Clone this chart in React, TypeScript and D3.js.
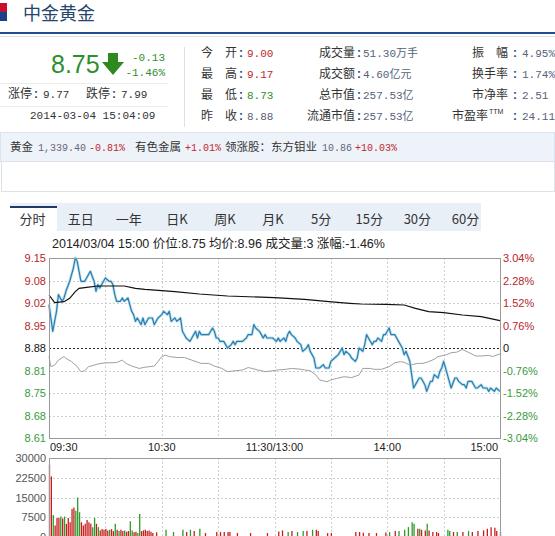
import React from 'react';
import * as d3 from 'd3';

// ---------- data ----------
const prevClose = 8.88;
const priceSeries: [number, number][] = [
  [0,9.01],[2,8.93],[4,8.99],[5,9.04],[7,9.02],[8,9.03],[9,9.05],[11,9.08],[13,9.12],[14,9.15],[15,9.14],[16,9.11],[17,9.08],[19,9.08],[20,9.09],[21,9.10],[22,9.11],[24,9.08],[25,9.05],[26,9.07],[27,9.06],[29,9.08],[30,9.09],[32,9.08],[33,9.08],[34,9.07],[35,9.04],[36,9.02],[38,9.02],[39,9.03],[40,9.02],[42,9.03],[44,8.99],[45,8.98],[46,8.96],[47,8.97],[49,8.95],[50,8.97],[51,8.95],[53,8.97],[55,8.97],[56,8.95],[58,8.97],[60,8.98],[61,8.99],[63,8.98],[64,8.99],[65,8.96],[67,8.97],[68,8.96],[70,8.97],[71,8.93],[73,8.91],[75,8.90],[76,8.91],[77,8.92],[78,8.93],[79,8.91],[80,8.93],[81,8.92],[83,8.92],[85,8.92],[87,8.94],[88,8.93],[89,8.91],[90,8.91],[91,8.90],[93,8.90],[94,8.89],[95,8.88],[97,8.89],[98,8.90],[99,8.89],[100,8.90],[102,8.90],[103,8.90],[105,8.91],[106,8.92],[108,8.92],[109,8.95],[110,8.94],[112,8.93],[113,8.92],[114,8.91],[115,8.92],[116,8.91],[118,8.91],[119,8.91],[121,8.90],[122,8.91],[123,8.90],[125,8.91],[126,8.90],[127,8.92],[128,8.93],[129,8.92],[131,8.91],[132,8.90],[134,8.89],[135,8.87],[137,8.88],[138,8.89],[139,8.87],[141,8.85],[142,8.82],[144,8.82],[146,8.83],[147,8.82],[149,8.82],[150,8.84],[152,8.85],[154,8.86],[156,8.88],[157,8.86],[158,8.87],[160,8.86],[161,8.85],[163,8.84],[164,8.85],[165,8.88],[167,8.87],[168,8.89],[169,8.92],[170,8.91],[172,8.89],[173,8.90],[174,8.90],[175,8.91],[177,8.90],[178,8.92],[179,8.92],[180,8.93],[181,8.94],[182,8.92],[184,8.92],[185,8.91],[186,8.90],[188,8.88],[189,8.86],[190,8.87],[192,8.84],[193,8.80],[194,8.76],[196,8.78],[197,8.79],[198,8.79],[200,8.77],[201,8.75],[203,8.78],[204,8.78],[205,8.80],[207,8.79],[208,8.81],[209,8.82],[210,8.84],[212,8.80],[213,8.78],[214,8.76],[216,8.79],[217,8.79],[218,8.78],[220,8.77],[221,8.77],[222,8.76],[223,8.78],[225,8.78],[226,8.77],[227,8.76],[228,8.76],[230,8.77],[231,8.76],[233,8.76],[234,8.75],[235,8.76],[237,8.75],[238,8.76],[240,8.75]
];
const avgSeries: [number, number][] = [
  [0,9.039],[3,9.016],[8,9.019],[11,9.029],[14,9.049],[16,9.059],[20,9.062],[26,9.066],[40,9.066],[46,9.059],[51,9.056],[60,9.052],[67,9.049],[80,9.042],[95,9.036],[120,9.031],[136,9.026],[149,9.019],[160,9.014],[166,9.012],[179,9.011],[189,9.009],[195,8.999],[202,8.989],[210,8.986],[220,8.979],[230,8.974],[240,8.962]
];
const indexPctSeries: [number, number][] = [
  [0,-0.29],[1,-0.63],[3,-0.58],[5,-0.41],[8,-0.29],[9,-0.35],[12,-0.46],[15,-0.63],[17,-0.80],[19,-0.77],[21,-0.63],[24,-0.58],[26,-0.54],[30,-0.50],[33,-0.50],[36,-0.49],[39,-0.41],[41,-0.52],[44,-0.61],[48,-0.69],[51,-0.65],[56,-0.61],[58,-0.46],[60,-0.29],[62,-0.24],[64,-0.29],[68,-0.32],[72,-0.32],[76,-0.41],[80,-0.50],[81,-0.52],[85,-0.52],[88,-0.61],[92,-0.69],[95,-0.80],[99,-0.77],[103,-0.74],[106,-0.66],[108,-0.69],[111,-0.74],[115,-0.80],[119,-0.77],[122,-0.74],[126,-0.72],[129,-0.69],[133,-0.71],[136,-0.74],[139,-0.77],[142,-0.91],[144,-1.08],[148,-1.14],[150,-1.08],[153,-1.03],[157,-0.97],[161,-1.0],[165,-0.91],[167,-0.69],[171,-0.69],[173,-0.72],[177,-0.72],[181,-0.63],[184,-0.50],[187,-0.46],[189,-0.48],[192,-0.58],[196,-0.52],[199,-0.52],[202,-0.46],[205,-0.38],[207,-0.29],[211,-0.24],[214,-0.16],[217,-0.14],[220,-0.05],[223,-0.14],[227,-0.27],[230,-0.27],[234,-0.25],[236,-0.29],[240,-0.20]
];
// [minute, volume, direction 1 = up(red), -1 = down(green)]
const volumeSeries: [number, number, number][] = [
  [0,27500,1],[1,23000,1],[2,8400,-1],[3,4400,1],[4,7250,1],[5,7250,1],[6,7750,-1],[7,7000,1],[8,7750,-1],[9,5000,1],[10,7250,1],[11,5600,1],[12,10600,1],[13,11250,1],[14,10000,-1],[15,15000,-1],[16,9400,-1],[17,5600,1],[18,4400,1],[19,5000,1],[20,6500,1],[21,5600,1],[22,5000,1],[23,3750,-1],[24,7250,-1],[25,5000,1],[26,3750,-1],
  [27,2500,1],[28,3000,1],[29,2750,1],[30,3000,1],[31,2500,1],[32,2750,-1],[33,3000,1],[34,2250,1],[35,5000,-1],[36,2750,1],[37,2250,-1],[38,2750,1],[39,2250,1],[40,2500,-1],[41,2000,1],[42,2250,1],[43,6000,-1],[44,2500,-1],[45,1800,1],[46,2000,1],[47,1500,-1],[48,8750,-1],[49,2250,1],[50,2500,1],[51,2750,1],[52,2250,1],[53,2500,1],[54,2000,1],[55,1500,1],[57,1800,1],
  [62,2750,-1],[66,1875,-1],[71,2750,-1],[73,1875,1],[75,2750,-1],[77,2250,1],[80,3125,-1],[83,1500,1],[89,1875,1],[91,1875,1],[93,1875,1],[95,1875,1],[96,1875,1],[100,1500,1],[107,1500,1],[116,1500,1],
  [122,2125,1],[124,2500,1],[127,1875,-1],[129,2250,1],[132,1875,-1],[135,2250,-1],[137,2250,1],[140,2750,-1],[142,2750,1],[143,2250,1],[148,1500,1],[150,1500,1],[163,1875,1],[165,1875,1],[167,1625,1],[170,1500,1],[174,1500,1],[179,1750,1],[181,1875,-1],[184,2250,1],[186,2250,-1],[189,2750,-1],[191,3750,-1],[193,5600,-1],[194,5000,-1],[196,3125,1],[197,3125,-1],[198,2750,1],[200,2500,1],[201,5000,-1],[202,2500,1],[204,1875,1],[206,1875,1],[207,1500,1],[212,2750,-1],[213,2250,-1],[215,1875,1],[217,1875,-1],[220,1875,1],[223,2250,-1],[225,1875,1],[228,2250,1],[231,2500,1],[233,3125,1],[235,3750,1],[237,3500,1],[238,2250,1],[240,1875,1]
];
const priceTickLabels = ['9.15','9.08','9.02','8.95','8.88','8.81','8.75','8.68','8.61'];
const pctTicks = [3.04, 2.28, 1.52, 0.76, 0, -0.76, -1.52, -2.28, -3.04];
const pctTickLabels = ['3.04%','2.28%','1.52%','0.76%','0','-0.76%','-1.52%','-2.28%','-3.04%'];
const timeTickMins = [0, 60, 120, 180, 240];
const timeTickLabels = ['09:30','10:30','11:30/13:00','14:00','15:00'];
const gridMins = [30, 60, 90, 120, 150, 180, 210];
const volTicks = [30000, 22500, 15000, 7500, 0];
const tabs = ['分时','五日','一年','日K','周K','月K','5分','15分','30分','60分'];
const quoteLabelsA = ['今　开','最　高','最　低','昨　收'];
const quoteValuesA = [9.00, 9.17, 8.73, 8.88];
const quoteLabelsB = ['成交量','成交额','总市值','流通市值'];
const quoteValuesB = ['51.30万手','4.60亿元','257.53亿','257.53亿'];
const quoteLabelsC = ['振　幅','换手率','市净率','市盈率'];
const quoteValuesC = ['4.95%','1.74%','2.51','24.11'];

// ---------- styles ----------
const CJK = "'Noto Sans CJK SC','Noto Sans',sans-serif";
const SANS = "'Liberation Sans',Arial,sans-serif";
const MONO = "'Liberation Mono','Noto Sans CJK SC',monospace";
const RED = '#c0282b';
const GREEN = '#2e8f2e';
const VALC = '#55627a';
const rowsY = [53, 74, 95, 116];

export default function App() {
  const x = d3.scaleLinear().domain([0, 240]).range([49, 500]);
  const yPct = d3.scaleLinear().domain([-3.04, 3.04]).range([438, 258]);
  const yP = d3.scaleLinear().domain([prevClose * (1 - 0.0304), prevClose * (1 + 0.0304)]).range([438, 258]);
  const yV = d3.scaleLinear().domain([0, 30000]).range([537, 458]);
  const tabX = d3.scaleBand<string>().domain(tabs).range([8.5, 489.5]);

  const lineP = d3.line<[number, number]>().x(d => x(d[0])).y(d => yP(d[1]));
  const lineI = d3.line<[number, number]>().x(d => x(d[0])).y(d => yPct(d[1]));

  const colorFor = (v: number) => (v > prevClose ? RED : v < prevClose ? GREEN : VALC);

  return (
    <svg width={555} height={536} style={{ position: 'absolute', left: 0, top: 0, background: '#fff' }}>
      <rect x={0} y={0} width={555} height={536} fill="#fff" />
      {/* header */}
      <rect x={0} y={3} width={7} height={9} fill="#c8102e" />
      <rect x={0} y={12} width={7} height={9} fill="#1b3f8b" />
      <text x={23} y={20} fontFamily={CJK} fontSize={18} fill="#27466b">中金黄金</text>
      <rect x={0} y={32} width={555} height={2} fill="#1f4f8a" />
      <rect x={0} y={36} width={555} height={1} fill="#dde3ea" />

      {/* price block */}
      <text x={51} y={73} fontFamily={SANS} fontSize={25} fill={GREEN}>8.75</text>
      <path d="M108,53 L118,53 L118,62 L124,62 L113,75 L102,62 L108,62 Z" fill="#2e8a1f" />
      <text x={165} y={61} textAnchor="end" fontFamily={MONO} fontSize={11} fill={GREEN}>-0.13</text>
      <text x={165} y={76} textAnchor="end" fontFamily={MONO} fontSize={11} fill={GREEN}>-1.46%</text>
      <line x1={0} x2={168} y1={83.5} y2={83.5} stroke="#ececec" />
      <text y={98} fontSize={12} fill="#333">
        <tspan x={8} fontFamily={CJK}>涨停</tspan>
        <tspan x={34} fontFamily={SANS} fontWeight="bold" fill="#2b4a7a">:</tspan>
        <tspan x={43} fontFamily={MONO} fontSize={11}>9.77</tspan>
        <tspan x={86} fontFamily={CJK}>跌停</tspan>
        <tspan x={112} fontFamily={SANS} fontWeight="bold" fill="#2b4a7a">:</tspan>
        <tspan x={121} fontFamily={MONO} fontSize={11}>7.99</tspan>
      </text>
      <line x1={0} x2={168} y1={106.5} y2={106.5} stroke="#ececec" />
      <text x={30} y={119} fontFamily={MONO} fontSize={11} fill="#333">2014-03-04 15:04:09</text>
      <line x1={184.5} x2={184.5} y1={47} y2={127} stroke="#e0e0e0" />

      {/* quote columns */}
      {quoteLabelsA.map((l, i) => (
        <g key={'a' + i}>
          <text x={201} y={rowsY[i] + 4} fontFamily={CJK} fontSize={12} fill="#333">{l}</text>
          <text x={241} y={rowsY[i] + 4} textAnchor="middle" fontFamily={SANS} fontWeight="bold" fontSize={12} fill="#2b4a7a">:</text>
          <text x={247} y={rowsY[i] + 4} fontFamily={MONO} fontSize={11} fill={colorFor(quoteValuesA[i])}>{quoteValuesA[i].toFixed(2)}</text>
        </g>
      ))}
      {quoteLabelsB.map((l, i) => (
        <g key={'b' + i}>
          <text x={355} y={rowsY[i] + 4} textAnchor="end" fontFamily={CJK} fontSize={12} fill="#333">{l}</text>
          <text x={359} y={rowsY[i] + 4} textAnchor="middle" fontFamily={SANS} fontWeight="bold" fontSize={12} fill="#2b4a7a">:</text>
          <text x={363} y={rowsY[i] + 4} fontFamily={MONO} fontSize={11} fill={VALC}>{quoteValuesB[i]}</text>
        </g>
      ))}
      {quoteLabelsC.map((l, i) => (
        <g key={'c' + i}>
          <text x={i === 3 ? 488 : 508} y={rowsY[i] + 4} textAnchor="end" fontFamily={CJK} fontSize={12} fill="#333">{l}</text>
          {i === 3 && <text x={489} y={rowsY[i] - 2} fontFamily={SANS} fontSize={7} fill="#333">TTM</text>}
          <text x={515} y={rowsY[i] + 4} textAnchor="middle" fontFamily={SANS} fontWeight="bold" fontSize={12} fill="#2b4a7a">:</text>
          <text x={522} y={rowsY[i] + 4} fontFamily={MONO} fontSize={11} fill={VALC}>{quoteValuesC[i]}</text>
        </g>
      ))}

      {/* related row */}
      <rect x={0.5} y={132.5} width={554} height={29} fill="#eef3fa" stroke="#dbe3ee" />
      <rect x={1.5} y={161.5} width={553} height={30} fill="#fff" stroke="#dde2e8" />
      <text y={151} fontSize={11.5}>
        <tspan x={10} fontFamily={CJK} fill="#333">黄金</tspan>
        <tspan x={38} fontFamily={MONO} fontSize={10} fill="#667">1,339.40</tspan>
        <tspan x={89} fontFamily={MONO} fontSize={10} fill={RED}>-0.81%</tspan>
        <tspan x={135} fontFamily={CJK} fill="#333">有色金属</tspan>
        <tspan x={185} fontFamily={MONO} fontSize={10} fill={RED}>+1.01%</tspan>
        <tspan x={225} fontFamily={CJK} fill="#333">领涨股：东方钼业</tspan>
        <tspan x={322} fontFamily={MONO} fontSize={10} fill="#667">10.86</tspan>
        <tspan x={355} fontFamily={MONO} fontSize={10} fill={RED}>+10.03%</tspan>
      </text>

      {/* tabs */}
      <rect x={10} y={203} width={471} height={28} fill="#e9eff7" />
      <rect x={10} y={207} width={47} height={24} fill="#fff" />
      <rect x={10} y={206} width={47} height={2} fill="#1f3a66" />
      {tabs.map(t => (
        <text key={t} x={(tabX(t) as number) + tabX.bandwidth() / 2} y={224} textAnchor="middle" fontFamily={CJK} fontSize={13} fill="#333">{t}</text>
      ))}

      {/* chart caption */}
      <text x={52} y={248} fontFamily={SANS} fontSize={12.5} fill="#222">
        2014/03/04 15:00 <tspan fontFamily={CJK}>价位</tspan>:8.75 <tspan fontFamily={CJK}>均价</tspan>:8.96 <tspan fontFamily={CJK}>成交量</tspan>:3 <tspan fontFamily={CJK}>涨幅</tspan>:-1.46%
      </text>

      {/* price grid */}
      {pctTicks.map((p, i) => (i > 0 && i < pctTicks.length - 1 && p !== 0) ? (
        <line key={'hg' + i} x1={49} x2={500} y1={Math.round(yPct(p)) + 0.5} y2={Math.round(yPct(p)) + 0.5} stroke="#cfcfcf" strokeDasharray="2,2" />
      ) : null)}
      {gridMins.map(m => (
        <line key={'vg' + m} x1={Math.round(x(m)) + 0.5} x2={Math.round(x(m)) + 0.5} y1={258} y2={438} stroke="#cfcfcf" strokeDasharray="2,2" />
      ))}
      <line x1={49} x2={500} y1={Math.round(yP(prevClose)) + 0.5} y2={Math.round(yP(prevClose)) + 0.5} stroke="#222" strokeDasharray="2,2" />

      {/* lines */}
      <path d={lineI(indexPctSeries) as string} fill="none" stroke="#a0a0a0" strokeWidth={1} />
      <path d={lineP(priceSeries) as string} fill="none" stroke="#b9e1f0" strokeWidth={2.8} strokeLinejoin="round" />
      <path d={lineP(priceSeries) as string} fill="none" stroke="#2f7dae" strokeWidth={1.2} strokeLinejoin="round" />
      <path d={lineP(avgSeries) as string} fill="none" stroke="#111" strokeWidth={1.2} />
      <rect x={49.5} y={258.5} width={451} height={180} fill="none" stroke="#9a9a9a" />

      {/* price axis labels */}
      {pctTicks.map((p, i) => {
        const c = p > 0 ? '#b5262a' : p < 0 ? '#3a9a3a' : '#111';
        return (
          <g key={'pl' + i}>
            <text x={46} y={yPct(p) + 4} textAnchor="end" fontFamily={SANS} fontSize={11} fill={c}>{priceTickLabels[i]}</text>
            <text x={503} y={yPct(p) + 4} fontFamily={SANS} fontSize={11} fill={c}>{pctTickLabels[i]}</text>
          </g>
        );
      })}
      {timeTickMins.map((m, i) => (
        <text key={'tl' + i} x={i === 0 ? x(m) + 1 : i === timeTickMins.length - 1 ? x(m) - 2 : x(m)} y={451}
          textAnchor={i === 0 ? 'start' : i === timeTickMins.length - 1 ? 'end' : 'middle'}
          fontFamily={SANS} fontSize={11} fill="#222">{timeTickLabels[i]}</text>
      ))}

      {/* volume panel */}
      {volTicks.slice(1, -1).map(v => (
        <line key={'vh' + v} x1={49} x2={500} y1={Math.round(yV(v)) + 0.5} y2={Math.round(yV(v)) + 0.5} stroke="#cfcfcf" strokeDasharray="2,2" />
      ))}
      {gridMins.map(m => (
        <line key={'vv' + m} x1={Math.round(x(m)) + 0.5} x2={Math.round(x(m)) + 0.5} y1={458} y2={537} stroke="#cfcfcf" strokeDasharray="2,2" />
      ))}
      {volumeSeries.map((d, i) => (
        <line key={'vb' + i} x1={x(d[0]) + 0.5} x2={x(d[0]) + 0.5} y1={yV(0)} y2={yV(d[1])} stroke={d[2] > 0 ? '#c81d1d' : '#2a9c2a'} strokeWidth={1.3} />
      ))}
      <rect x={49.5} y={458.5} width={451} height={80} fill="none" stroke="#9a9a9a" />
      {volTicks.map(v => (
        <text key={'vt' + v} x={46} y={yV(v) + 4} textAnchor="end" fontFamily={SANS} fontSize={11} fill="#555">{v}</text>
      ))}
    </svg>
  );
}
